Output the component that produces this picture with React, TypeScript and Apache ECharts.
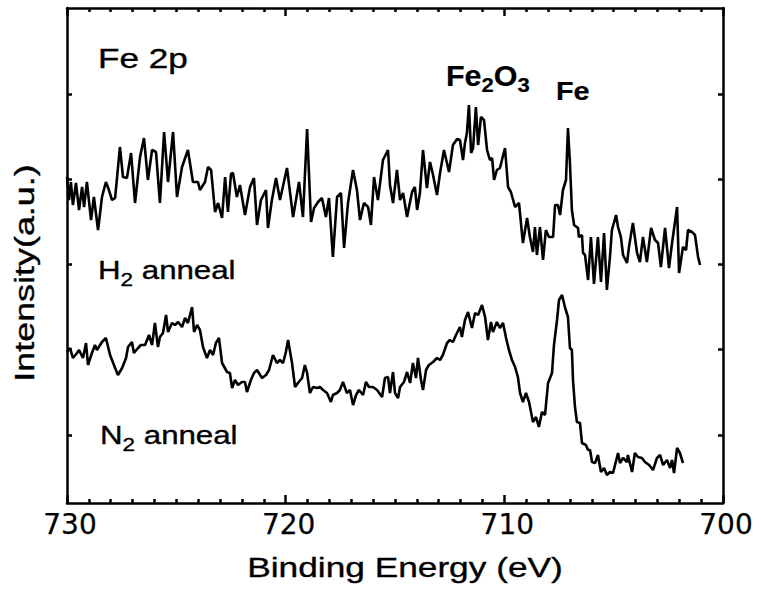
import React, { useEffect, useRef } from 'react';
import * as echarts from 'echarts';

// Binding energy (eV), intensity (a.u.)
const h2Spectrum: [number, number][] = [
  [730.00, 326], [729.91, 303], [729.82, 321], [729.73, 298], [729.59, 320], [729.45, 293], [729.31, 316], [729.22, 296],
  [729.09, 321], [728.90, 283], [728.77, 306], [728.58, 273], [728.40, 306], [728.22, 321], [728.13, 316], [727.94, 303],
  [727.80, 305], [727.58, 356], [727.44, 326], [727.26, 325], [727.07, 350], [726.89, 300], [726.66, 346], [726.48, 365],
  [726.30, 323], [726.11, 353], [725.93, 351], [725.75, 300], [725.56, 371], [725.38, 321], [725.15, 371], [724.97, 306],
  [724.74, 336], [724.47, 353], [724.24, 321], [724.01, 321], [723.92, 313], [723.69, 321], [723.55, 336], [723.41, 333],
  [723.23, 291], [723.09, 300], [722.91, 285], [722.77, 326], [722.64, 291], [722.50, 329], [722.41, 330], [722.23, 306],
  [722.09, 318], [721.86, 288], [721.63, 316], [721.45, 325], [721.31, 278], [721.13, 303], [720.90, 313], [720.81, 275],
  [720.63, 303], [720.44, 325], [720.26, 303], [719.94, 335], [719.66, 286], [719.39, 321], [719.21, 286], [719.02, 374],
  [718.84, 281], [718.70, 295], [718.52, 301], [718.34, 305], [718.16, 286], [718.02, 305], [717.84, 246], [717.65, 306],
  [717.47, 310], [717.33, 255], [717.15, 300], [716.92, 333], [716.74, 313], [716.60, 283], [716.42, 300], [716.23, 296],
  [716.10, 278], [715.96, 326], [715.78, 303], [715.55, 343], [715.32, 353], [715.23, 318], [715.09, 300], [714.91, 333],
  [714.77, 303], [714.63, 310], [714.45, 286], [714.22, 311], [714.09, 316], [713.99, 293], [713.86, 310], [713.72, 353],
  [713.54, 315], [713.40, 341], [713.26, 328], [713.08, 308], [712.94, 330], [712.76, 353], [712.53, 331], [712.35, 358],
  [712.16, 364], [712.03, 363], [711.89, 343], [711.80, 360], [711.71, 370], [711.62, 398], [711.52, 350], [711.43, 355],
  [711.30, 396], [711.20, 358], [711.07, 386], [710.93, 383], [710.79, 353], [710.66, 343], [710.56, 345], [710.47, 323],
  [710.34, 333], [710.20, 335], [709.97, 355], [709.83, 316], [709.70, 311], [709.51, 296], [709.33, 300], [709.15, 260],
  [708.96, 285], [708.83, 266], [708.69, 251], [708.60, 276], [708.51, 248], [708.37, 276], [708.23, 243], [708.10, 273],
  [707.96, 266], [707.77, 266], [707.68, 298], [707.55, 298], [707.45, 288], [707.32, 313], [707.18, 323], [707.09, 375],
  [707.00, 340], [706.91, 293], [706.81, 278], [706.63, 275], [706.59, 266], [706.45, 268], [706.40, 250], [706.31, 248],
  [706.17, 223], [706.04, 266], [705.90, 219], [705.72, 266], [705.58, 221], [705.44, 270], [705.31, 213], [705.17, 246],
  [705.08, 273], [704.89, 288], [704.80, 276], [704.67, 266], [704.57, 248], [704.39, 240], [704.30, 256], [704.12, 280],
  [703.93, 250], [703.80, 241], [703.66, 266], [703.48, 241], [703.29, 275], [703.11, 263], [702.97, 260], [702.84, 236],
  [702.65, 275], [702.47, 235], [702.33, 260], [702.10, 296], [702.01, 230], [701.83, 256], [701.69, 253], [701.60, 273],
  [701.42, 271], [701.28, 268], [701.14, 246], [701.05, 238],
];

const n2Spectrum: [number, number][] = [
  [730.00, 151], [729.86, 155], [729.73, 145], [729.54, 150], [729.45, 153], [729.27, 145], [729.13, 160], [729.04, 138],
  [728.86, 150], [728.72, 158], [728.63, 153], [728.40, 161], [728.22, 165], [728.03, 148], [727.80, 135], [727.67, 128],
  [727.48, 135], [727.30, 145], [727.21, 156], [727.03, 161], [726.94, 150], [726.75, 155], [726.62, 158], [726.43, 158],
  [726.25, 168], [726.11, 158], [725.98, 180], [725.84, 156], [725.75, 166], [725.61, 170], [725.47, 188], [725.38, 171],
  [725.20, 180], [725.06, 178], [724.92, 181], [724.74, 176], [724.60, 185], [724.47, 180], [724.28, 196], [724.19, 171],
  [724.05, 178], [723.92, 173], [723.78, 156], [723.60, 145], [723.46, 153], [723.32, 148], [723.19, 160], [723.05, 165],
  [722.91, 140], [722.68, 131], [722.55, 130], [722.45, 115], [722.32, 123], [722.18, 118], [722.00, 121], [721.86, 121],
  [721.77, 111], [721.59, 123], [721.45, 130], [721.31, 133], [721.08, 125], [720.90, 128], [720.76, 133], [720.58, 148],
  [720.40, 140], [720.26, 143], [720.12, 140], [719.99, 151], [719.89, 163], [719.71, 140], [719.57, 116], [719.44, 120],
  [719.25, 125], [719.12, 138], [719.02, 130], [718.89, 110], [718.75, 116], [718.57, 115], [718.43, 116], [718.29, 113],
  [718.11, 110], [717.93, 101], [717.84, 108], [717.65, 110], [717.52, 113], [717.38, 121], [717.20, 110], [717.06, 113],
  [716.92, 98], [716.78, 108], [716.65, 113], [716.46, 108], [716.33, 121], [716.19, 116], [716.01, 116], [715.82, 113],
  [715.59, 106], [715.46, 125], [715.32, 126], [715.23, 110], [715.09, 131], [715.00, 110], [714.86, 105], [714.77, 116],
  [714.59, 121], [714.45, 131], [714.31, 120], [714.18, 140], [714.04, 125], [713.95, 145], [713.81, 123], [713.72, 113],
  [713.58, 133], [713.45, 138], [713.26, 141], [713.08, 145], [712.94, 143], [712.81, 148], [712.62, 160], [712.49, 163],
  [712.35, 161], [712.21, 168], [712.03, 176], [711.94, 166], [711.80, 183], [711.66, 191], [711.48, 175], [711.34, 190],
  [711.20, 188], [711.02, 198], [710.88, 186], [710.75, 163], [710.61, 181], [710.52, 171], [710.34, 181], [710.20, 175],
  [710.06, 180], [709.92, 165], [709.79, 153], [709.65, 143], [709.51, 136], [709.38, 126], [709.28, 110], [709.15, 101],
  [709.01, 110], [708.87, 101], [708.69, 81], [708.55, 86], [708.42, 76], [708.28, 91], [708.14, 88], [708.00, 120],
  [707.82, 130], [707.73, 158], [707.59, 183], [707.50, 203], [707.36, 208], [707.23, 196], [707.09, 186], [707.00, 155],
  [706.91, 153], [706.86, 123], [706.77, 96], [706.68, 81], [706.54, 80], [706.45, 60], [706.27, 58], [706.17, 53],
  [706.08, 53], [705.99, 41], [705.85, 40], [705.72, 48], [705.58, 31], [705.44, 35], [705.31, 28], [705.17, 31],
  [705.03, 30], [704.80, 50], [704.71, 40], [704.57, 45], [704.39, 41], [704.35, 48], [704.16, 31], [704.03, 50],
  [703.89, 46], [703.71, 45], [703.57, 41], [703.38, 38], [703.20, 33], [703.02, 45], [702.88, 48], [702.74, 38],
  [702.56, 43], [702.42, 35], [702.33, 43], [702.24, 30], [702.10, 55], [701.97, 50], [701.83, 40],
];

const energyMin = 700;
const energyMax = 730;
const energyStep = 10;
const intensityMin = 0;
const intensityMax = 495;
const intensityTicks = [68, 154, 239, 324, 409];

const FONT = "'Liberation Sans', Arial, sans-serif";

type Part = { t: string; sub?: boolean };

function richText(
  x: number,
  y: number,
  parts: Part[],
  fontSize: number,
  subSize: number,
  subDrop: number,
  scaleX: number,
  bold = false,
  align: 'left' | 'center' = 'left',
  rotation = 0,
) {
  const weight = bold ? 'bold' : 'normal';
  const lh = subSize + 2 * (subDrop - 0.3465 * (subSize - fontSize));
  const hasSub = parts.some((p) => p.sub);
  const text = parts.map((p) => `{${p.sub ? 's' : 'm'}|${p.t}}`).join('');
  const strokeW = bold ? 0.2 : 0.35;
  const common = { fontFamily: FONT, fontWeight: weight, fill: '#000', stroke: '#000', lineWidth: strokeW };
  return {
    type: 'text',
    x,
    y,
    scaleX,
    rotation,
    silent: true,
    style: {
      ...common,
      text,
      fontSize,
      align,
      textAlign: align,
      verticalAlign: 'middle',
      textVerticalAlign: 'middle',
      rich: {
        m: { ...common, fontSize, lineHeight: hasSub ? lh : fontSize },
        s: { ...common, fontSize: subSize, lineHeight: subSize, verticalAlign: 'bottom' },
      },
    },
  };
}

const axisLine = { color: '#000', width: 2.5 };

const xBase = {
  type: 'value',
  min: energyMin,
  max: energyMax,
  interval: energyStep,
  inverse: true,
  axisLine: { show: true, onZero: false, lineStyle: axisLine },
  axisTick: { show: true, inside: true, length: 8, lineStyle: axisLine },
  minorTick: { show: true, splitNumber: 10, length: 4, lineStyle: axisLine },
  splitLine: { show: false },
  minorSplitLine: { show: false },
};

const yBase = {
  type: 'value',
  min: intensityMin,
  max: intensityMax,
  axisLine: { show: true, onZero: false, lineStyle: axisLine },
  axisTick: { show: true, inside: true, length: 5, customValues: intensityTicks, lineStyle: axisLine },
  axisLabel: { show: false },
  splitLine: { show: false },
};

const option = {
  animation: false,
  backgroundColor: '#fff',
  grid: { left: 67, right: 38, top: 8, bottom: 89, containLabel: false },
  xAxis: [
    {
      ...xBase,
      position: 'bottom',
      axisLabel: {
        show: true,
        color: '#000',
        fontFamily: "'DejaVu Sans', sans-serif",
        fontSize: 28,
        margin: 7,
        padding: [0, 0, 0, 6],
        textBorderColor: '#000',
        textBorderWidth: 0.25,
      },
    },
    { ...xBase, position: 'top', axisLabel: { show: false } },
  ],
  yAxis: [
    { ...yBase, position: 'left' },
    { ...yBase, position: 'right' },
  ],
  series: [
    {
      name: 'H2 anneal',
      type: 'line',
      data: h2Spectrum,
      showSymbol: false,
      symbol: 'none',
      lineStyle: { color: '#000', width: 2.6 },
      xAxisIndex: 0,
      yAxisIndex: 0,
      silent: true,
    },
    {
      name: 'N2 anneal',
      type: 'line',
      data: n2Spectrum,
      showSymbol: false,
      symbol: 'none',
      lineStyle: { color: '#000', width: 2.6 },
      xAxisIndex: 0,
      yAxisIndex: 0,
      silent: true,
    },
  ],
  graphic: [
    richText(98, 59, [{ t: 'Fe 2p' }], 27, 18, 6, 1.3),
    richText(98, 270, [{ t: 'H' }, { t: '2', sub: true }, { t: ' anneal' }], 25, 18, 7, 1.25),
    richText(100, 435, [{ t: 'N' }, { t: '2', sub: true }, { t: ' anneal' }], 25, 18, 7, 1.25),
    richText(446, 76, [{ t: 'Fe' }, { t: '2', sub: true }, { t: 'O' }, { t: '3', sub: true }], 29, 21, 6, 1.05, true),
    richText(556, 92, [{ t: 'Fe' }], 25, 18, 6, 1.15, true),
    richText(405, 567, [{ t: 'Binding Energy (eV)' }], 28, 19, 6, 1.26, false, 'center'),
    richText(25, 273, [{ t: 'Intensity(a.u.)' }], 27, 18, 6, 1.33, false, 'center', Math.PI / 2),
  ],
};

export default function App() {
  const ref = useRef<HTMLDivElement>(null);
  useEffect(() => {
    if (!ref.current) return;
    const chart = echarts.init(ref.current, null, { renderer: 'svg' });
    chart.setOption(option as any);
    return () => chart.dispose();
  }, []);
  return (
    <div
      ref={ref}
      style={{ position: 'absolute', left: 0, top: 0, width: 761, height: 592, background: '#fff' }}
    />
  );
}
